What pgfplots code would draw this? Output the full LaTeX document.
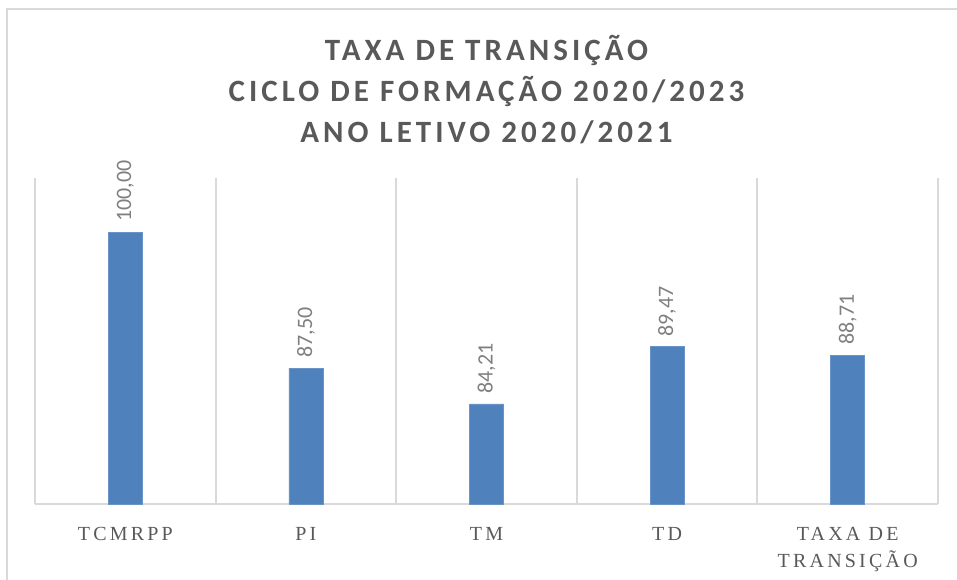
\documentclass[border=0pt]{standalone}
\usepackage{fontspec}
\usepackage{pgfplots}
\pgfplotsset{compat=1.18}
\setmainfont{Liberation Serif}
\newfontfamily\titlefont[LetterSpace=13, BoldFont={Carlito Bold}]{Carlito}
\newfontfamily\tickfont[LetterSpace=16]{Liberation Serif}
\newfontfamily\labelfont{Carlito}
\definecolor{barblue}{HTML}{4F81BD}
\definecolor{txtgray}{HTML}{595959}
\definecolor{lblgray}{HTML}{7F7F7F}
\definecolor{gridgray}{HTML}{D9D9D9}
\begin{document}
\begin{tikzpicture}
\useasboundingbox (0,0) rectangle (957pt,580pt);
\draw[gridgray, line width=1.5pt] (7pt,0pt) -- (7pt,571pt) -- (957pt,571pt);
\node[align=center, text=txtgray, font=\titlefont\bfseries\fontsize{31}{41}\selectfont] at (486.5pt,490pt)
  {TAXA DE TRANSIÇÃO\\CICLO DE FORMAÇÃO 2020/2023\\ANO LETIVO 2020/2021};
\begin{axis}[
  at={(35pt,76pt)}, anchor=south west,
  scale only axis, width=903pt, height=326pt,
  xmin=-0.5, xmax=4.5, ymin=75, ymax=105,
  axis x line=bottom, axis y line=none,
  x axis line style={-, draw=gridgray, line width=2pt},
  xtick={0,1,2,3,4},
  xticklabels={TCMRPP, PI, TM, TD, {TAXA DE\\TRANSIÇÃO}},
  minor xtick={-0.5,0.5,1.5,2.5,3.5,4.5},
  xminorgrids, minor grid style={gridgray, line width=2pt},
  major tick length=0pt, minor tick length=0pt,
  xticklabel style={align=center, text=txtgray, font=\tickfont\fontsize{20}{27}\selectfont, yshift=-20pt},
  ytick=\empty,
  ybar, bar width=34pt,
  /pgf/number format/assume math mode=true,
  nodes near coords={\pgfmathprintnumber[fixed,fixed zerofill,precision=2,use comma]{\pgfplotspointmeta}},
  nodes near coords style={rotate=90, anchor=west, text=lblgray, font=\labelfont\fontsize{22}{22}\selectfont, inner xsep=10pt},
  clip=false,
]
\addplot[fill=barblue, draw=barblue!85!white, line width=0.8pt] coordinates {(0,100) (1,87.5) (2,84.21) (3,89.47) (4,88.71)};
\end{axis}
\end{tikzpicture}
\end{document}
